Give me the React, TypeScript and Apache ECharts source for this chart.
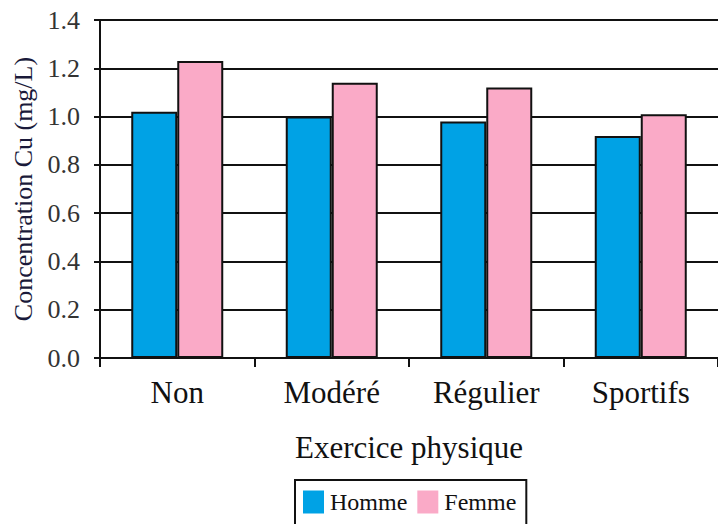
import React, { useEffect, useRef } from "react";
import * as echarts from "echarts";

const categories = ["Non", "Modéré", "Régulier", "Sportifs"];
const homme = [1.02, 1.0, 0.98, 0.92];
const femme = [1.23, 1.14, 1.12, 1.01];
const seriesNames = ["Homme", "Femme"];

const FONT = "Liberation Serif";

export default function App() {
  const ref = useRef<HTMLDivElement>(null);
  useEffect(() => {
    if (!ref.current) return;
    const chart = echarts.init(ref.current, undefined, { renderer: "svg" });
    chart.setOption({
      animation: false,
      backgroundColor: "#fff",
      textStyle: { fontFamily: FONT },
      grid: { left: 100, top: 20, right: -9, bottom: 166, containLabel: false },
      legend: {
        left: 295,
        top: 480,
        padding: [10, 10, 20, 8],
        borderColor: "#111",
        borderWidth: 2,
        itemWidth: 21,
        itemHeight: 23,
        itemGap: 10,
        icon: "rect",
        textStyle: { fontFamily: FONT, fontSize: 24, color: "#111", padding: [0, 0, 0, 1] },
        itemStyle: { borderWidth: 0 },
        data: seriesNames,
      },
      xAxis: {
        type: "category",
        data: categories,
        name: "Exercice physique",
        nameLocation: "middle",
        nameGap: 74,
        nameTextStyle: { fontFamily: FONT, fontSize: 31, color: "#111" },
        axisLine: { lineStyle: { color: "#111", width: 2 } },
        axisTick: { show: true, length: 9, lineStyle: { color: "#111", width: 2 } },
        axisLabel: { fontFamily: FONT, fontSize: 31, color: "#111", margin: 19 },
      },
      yAxis: {
        type: "value",
        min: 0,
        max: 1.4,
        interval: 0.2,
        name: "Concentration Cu (mg/L)",
        nameLocation: "middle",
        nameGap: 62,
        nameTextStyle: { fontFamily: FONT, fontSize: 26, color: "#1a1a3a" },
        axisLine: { show: true, lineStyle: { color: "#111", width: 2 } },
        axisTick: { show: true, length: 6, lineStyle: { color: "#111", width: 2 } },
        axisLabel: {
          fontFamily: FONT,
          fontSize: 26,
          color: "#333",
          margin: 20,
          formatter: (v: number) => v.toFixed(1),
        },
        splitLine: { show: true, lineStyle: { color: "#111", width: 2 } },
      },
      series: [
        {
          name: seriesNames[0],
          type: "bar",
          data: homme,
          barWidth: 46,
          barGap: "0%",
          itemStyle: { color: "#00A2E5", borderColor: "#111", borderWidth: 2 },
        },
        {
          name: seriesNames[1],
          type: "bar",
          data: femme,
          barWidth: 46,
          barGap: "0%",
          itemStyle: { color: "#FAAAC7", borderColor: "#111", borderWidth: 2 },
        },
      ],
    });
    return () => chart.dispose();
  }, []);
  return (
    <div
      ref={ref}
      style={{ position: "absolute", left: 0, top: 0, width: 718, height: 524 }}
    />
  );
}
